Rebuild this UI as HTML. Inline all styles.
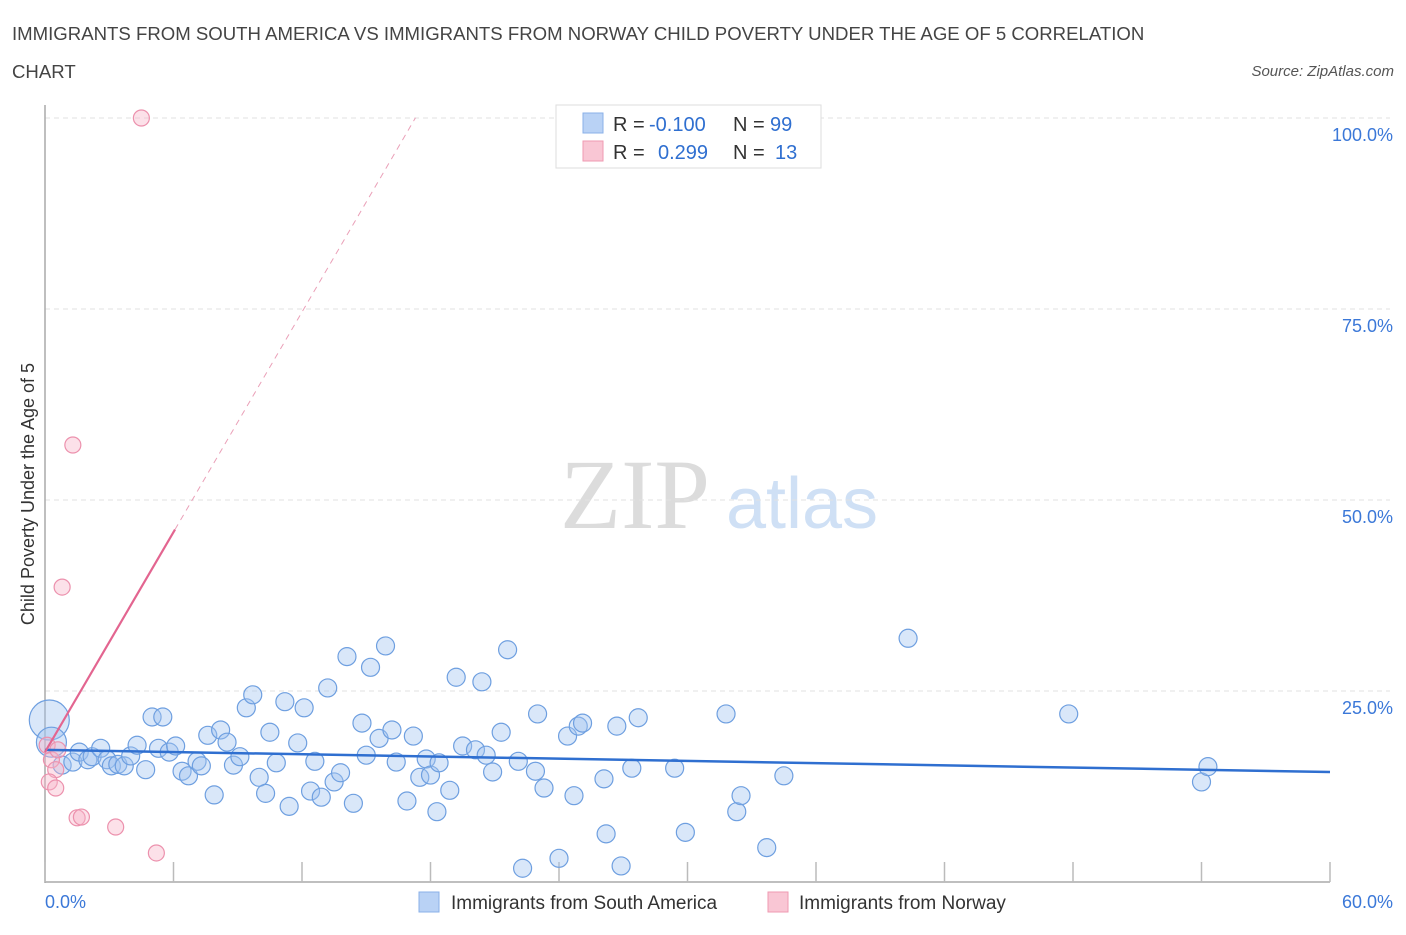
<!DOCTYPE html>
<html><head><meta charset="utf-8"><style>
body{margin:0;background:#fff;font-family:"Liberation Sans",sans-serif}
</style></head><body>
<svg id="chart" width="1406" height="930" xmlns="http://www.w3.org/2000/svg" font-family="Liberation Sans, sans-serif">
<text x="12" y="40" font-size="18.6" fill="#444">IMMIGRANTS FROM SOUTH AMERICA VS IMMIGRANTS FROM NORWAY CHILD POVERTY UNDER THE AGE OF 5 CORRELATION</text>
<text x="12" y="78" font-size="18.6" fill="#444">CHART</text>
<text x="1394" y="76" font-size="15" fill="#555" font-style="italic" text-anchor="end">Source: ZipAtlas.com</text>
<g>
<text x="635" y="528" font-size="100" fill="#dcdcdc" style="font-family:'Liberation Serif',serif" text-anchor="middle">ZIP</text>
<text x="802" y="528" font-size="72" fill="#cfe0f5" text-anchor="middle">atlas</text>
</g>
<g id="grid"></g><g id="axes"></g><g id="marks"></g>
<text transform="translate(34,494) rotate(-90)" font-size="18" fill="#333" text-anchor="middle">Child Poverty Under the Age of 5</text>
<g>
<rect x="556" y="105" width="265" height="63" fill="#fff" stroke="#ddd"/>
<rect x="583" y="113" width="20" height="20" fill="#b9d2f5" stroke="#8ab0e8"/>
<rect x="583" y="141" width="20" height="20" fill="#f9c6d4" stroke="#ef9ab2"/>
<text y="131" font-size="20" fill="#333"><tspan x="613">R = </tspan><tspan x="649" fill="#2f6fd0">-0.100</tspan><tspan x="733">N = </tspan><tspan x="770" fill="#2f6fd0">99</tspan></text>
<text y="159" font-size="20" fill="#333"><tspan x="613">R = </tspan><tspan fill="#2f6fd0" x="658">0.299</tspan><tspan x="733">N = </tspan><tspan fill="#2f6fd0" x="775">13</tspan></text>
</g>
<g>
<rect x="419" y="892" width="20" height="20" fill="#b9d2f5" stroke="#8ab0e8"/>
<text x="451" y="909" font-size="19" fill="#333">Immigrants from South America</text>
<rect x="768" y="892" width="20" height="20" fill="#f9c6d4" stroke="#ef9ab2"/>
<text x="799" y="909" font-size="19" fill="#333">Immigrants from Norway</text>
</g>
</svg>
<script>
const blueX=[0.2,0.3,0.8,1.3,1.6,2.0,2.2,2.6,2.9,3.1,3.4,3.7,4.0,4.3,4.7,5.0,5.3,5.5,5.8,6.1,6.4,6.7,7.1,7.3,7.6,7.9,8.2,8.5,8.8,9.1,9.4,9.7,10.0,10.3,10.5,10.8,11.2,11.4,11.8,12.1,12.4,12.6,12.9,13.2,13.5,13.8,14.1,14.4,14.8,15.0,15.2,15.6,15.9,16.2,16.4,16.9,17.2,17.5,17.8,18.0,18.3,18.4,18.9,19.2,19.5,20.1,20.4,20.6,20.9,21.3,21.6,22.1,22.3,22.9,23.0,23.3,24.0,24.4,24.7,24.9,25.1,26.1,26.2,26.7,26.9,27.4,27.7,29.4,29.9,31.8,32.3,32.5,33.7,34.5,40.3,47.8,54.0,54.3];
const blueY=[21.2,18.3,15.3,15.7,17.0,16.0,16.4,17.5,16.0,15.2,15.4,15.2,16.5,17.9,14.7,21.6,17.5,21.6,17.0,17.8,14.5,13.9,15.8,15.2,19.2,11.4,19.9,18.3,15.3,16.4,22.8,24.5,13.7,11.6,19.6,15.6,23.6,9.9,18.2,22.8,11.9,15.8,11.1,25.4,13.1,14.3,29.5,10.3,20.8,16.6,28.1,18.8,30.9,19.9,15.7,10.6,19.1,13.7,16.1,14.0,9.2,15.6,12.0,26.8,17.8,17.3,26.2,16.6,14.4,19.6,30.4,15.8,1.8,14.5,22.0,12.3,3.1,19.1,11.3,20.4,20.8,13.5,6.3,20.4,2.1,14.9,21.5,14.9,6.5,22.0,9.2,11.3,4.5,13.9,31.9,22.0,13.1,15.1];
const pinkX=[4.5,1.3,0.8,0.1,0.3,0.6,0.5,0.2,0.5,1.5,1.7,3.3,5.2];
const pinkY=[100,57.2,38.6,17.9,16.0,17.3,14.7,13.1,12.3,8.4,8.5,7.2,3.8];
const blueTrend=[17.3,14.4];
const pinkIntercept=17.0, pinkSlope=4.8, pinkSolidEnd=6.07, pinkDashEnd=17.3;
const yTicks=[25,50,75,100];
const yTickLabels=["25.0%","50.0%","75.0%","100.0%"];
const xTicks=[0,6,12,18,24,30,36,42,48,54,60];
const NS="http://www.w3.org/2000/svg";
const sx=v=>45+v/60*1285, sy=v=>882-v/100*764;
function mk(parent,tag,attrs){const e=document.createElementNS(NS,tag);for(const k in attrs)e.setAttribute(k,attrs[k]);document.getElementById(parent).appendChild(e);return e;}
yTicks.forEach((t,i)=>{
  const g=mk('grid','line',{x1:45,x2:1390,y1:sy(t),y2:sy(t),stroke:'#e2e2e2','stroke-dasharray':'5,4'});
  
  
  const l=mk('axes','text',{x:1393,y:sy(t)+23,'font-size':18,fill:'#3b78d8','text-anchor':'end'});
  l.textContent=yTickLabels[i];
  
  
});
const ya=mk('axes','line',{x1:45,x2:45,y1:105,y2:883,stroke:'#aaa','stroke-width':1.5});


const xa=mk('axes','line',{x1:45,x2:1330,y1:882,y2:882,stroke:'#aaa','stroke-width':1.5});


xTicks.forEach(t=>{
  const k=mk('axes','line',{x1:sx(t),x2:sx(t),y1:862,y2:882,stroke:'#bbb','stroke-width':1.5});
  
  
});
const x0=mk('axes','text',{x:45,y:908,'font-size':18,fill:'#3b78d8'});x0.textContent='0.0%';


const x1=mk('axes','text',{x:1393,y:908,'font-size':18,fill:'#3b78d8','text-anchor':'end'});x1.textContent='60.0%';


blueX.forEach((x,i)=>{
  const r=i===0?20:(i===1?15:9);
  const c=mk('marks','circle',{cx:sx(x),cy:sy(blueY[i]),r:r,fill:'rgba(160,196,240,0.4)',stroke:'#6e9fe0','stroke-width':1.2});
  
  
});
pinkX.forEach((x,i)=>{
  const c=mk('marks','circle',{cx:sx(x),cy:sy(pinkY[i]),r:8,fill:'rgba(248,180,200,0.4)',stroke:'#ec91ad','stroke-width':1.2});
  
  
});
const bt=mk('marks','line',{x1:sx(0),y1:sy(blueTrend[0]),x2:sx(60),y2:sy(blueTrend[1]),stroke:'#2f6fd0','stroke-width':2.5});


const ps=mk('marks','line',{x1:sx(0),y1:sy(pinkIntercept),x2:sx(pinkSolidEnd),y2:sy(pinkIntercept+pinkSlope*pinkSolidEnd),stroke:'#e36590','stroke-width':2.2});


const pd=mk('marks','line',{x1:sx(pinkSolidEnd),y1:sy(pinkIntercept+pinkSlope*pinkSolidEnd),x2:sx(pinkDashEnd),y2:sy(pinkIntercept+pinkSlope*pinkDashEnd),stroke:'#eaa0b8','stroke-width':1,'stroke-dasharray':'6,5'});


</script>
</body></html>
